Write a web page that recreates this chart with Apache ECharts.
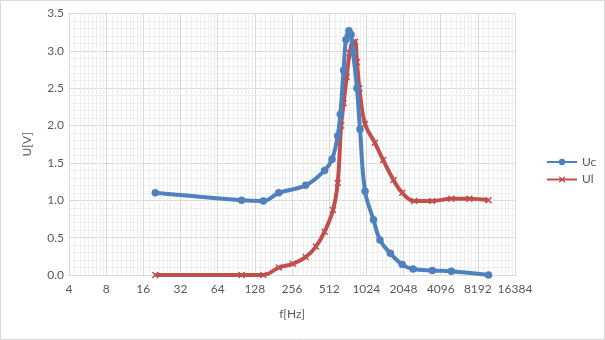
<!DOCTYPE html>
<html>
<head>
<meta charset="utf-8">
<script src="https://cdn.jsdelivr.net/npm/echarts@6/dist/echarts.min.js"></script>
<style>
html,body{margin:0;padding:0;background:#fff;}
#chart{width:605px;height:340px;}
</style>
</head>
<body>
<div id="chart"></div>
<script>
// ---- data ----
var xTicks = [4, 8, 16, 32, 64, 128, 256, 512, 1024, 2048, 4096, 8192, 16384];
var yTicks = [0.0, 0.5, 1.0, 1.5, 2.0, 2.5, 3.0, 3.5];

var ucFreq = [20, 100, 150, 200, 330, 470, 540, 600, 630, 670, 700, 740, 770, 800, 860, 910, 1000, 1170, 1320, 1600, 2000, 2450, 3500, 5000, 10000];
var ucVals = [1.10, 1.00, 0.99, 1.10, 1.20, 1.40, 1.55, 1.86, 2.15, 2.74, 3.15, 3.27, 3.22, 2.97, 2.50, 1.95, 1.12, 0.74, 0.47, 0.29, 0.14, 0.08, 0.06, 0.05, 0.00];

var ulFreq = [20, 100, 150, 200, 260, 330, 400, 470, 550, 600, 640, 670, 710, 750, 800, 830, 860, 900, 1000, 1200, 1400, 1700, 2000, 2500, 3500, 5000, 7000, 10000];
var ulVals = [0.00, 0.00, 0.00, 0.10, 0.15, 0.24, 0.38, 0.58, 0.87, 1.23, 2.00, 2.30, 2.65, 2.97, 3.12, 3.12, 2.85, 2.50, 2.02, 1.77, 1.54, 1.27, 1.10, 0.99, 0.99, 1.02, 1.02, 1.00];

var seriesNames = ['Uc', 'Ul'];
var xTitle = 'f[Hz]';
var yTitle = 'U[V]';

function pairs(xs, ys) { return xs.map(function (x, i) { return [x, ys[i]]; }); }

var FONT = 'Lato';
var TXT = '#595959';
var X_MARK = 'path://M0,1.5L1.5,0L5,3.5L8.5,0L10,1.5L6.5,5L10,8.5L8.5,10L5,6.5L1.5,10L0,8.5L3.5,5Z';

var chart = echarts.init(document.getElementById('chart'), null, {renderer: 'canvas'});
chart.setOption({
  animation: false,
  backgroundColor: '#ffffff',
  graphic: [{
    type: 'rect', shape: {x: 0.5, y: 0.5, width: 604, height: 339},
    style: {fill: 'none', stroke: '#d9d9d9', lineWidth: 1}, z: -10
  }],
  grid: {left: 69, right: 90, top: 13.5, bottom: 65, containLabel: false},
  legend: {
    orient: 'vertical', left: 541, top: 151,
    itemWidth: 30, itemHeight: 8, itemGap: 5.5,
    textStyle: {fontFamily: FONT, fontSize: 12, color: TXT},
    data: seriesNames
  },
  xAxis: {
    type: 'log', logBase: 2, min: xTicks[0], max: xTicks[xTicks.length - 1], interval: 1,
    name: xTitle, nameLocation: 'middle', nameGap: 33,
    nameTextStyle: {fontFamily: FONT, fontSize: 12, color: TXT},
    axisLine: {show: true, lineStyle: {color: '#d9d9d9', width: 1}},
    axisTick: {show: false},
    axisLabel: {fontFamily: FONT, fontSize: 12, color: TXT, margin: 8,
      formatter: function (v) { return String(Math.round(v)); }},
    splitLine: {show: true, lineStyle: {color: '#d9d9d9', width: 1}},
    minorTick: {show: false, splitNumber: 9},
    minorSplitLine: {show: true, lineStyle: {color: '#eeeeee', width: 1}}
  },
  yAxis: {
    type: 'value', min: yTicks[0], max: yTicks[yTicks.length - 1], interval: 0.5,
    name: yTitle, nameLocation: 'middle', nameGap: 36, nameRotate: 90,
    nameTextStyle: {fontFamily: FONT, fontSize: 12, color: TXT},
    axisLine: {show: false},
    axisTick: {show: false},
    axisLabel: {fontFamily: FONT, fontSize: 12, color: TXT, margin: 5,
      formatter: function (v) { return v.toFixed(1); }},
    splitLine: {show: true, lineStyle: {color: '#d9d9d9', width: 1}},
    minorTick: {show: false, splitNumber: 5},
    minorSplitLine: {show: true, lineStyle: {color: '#eeeeee', width: 1}}
  },
  series: [{
    name: seriesNames[0], type: 'line', smooth: 0.4,
    data: pairs(ucFreq, ucVals),
    symbol: 'circle', symbolSize: 7.5,
    lineStyle: {color: '#4f81bd', width: 4},
    itemStyle: {color: '#4f81bd'},
    z: 3
  }, {
    name: seriesNames[1], type: 'line', smooth: 0.4,
    data: pairs(ulFreq, ulVals),
    symbol: X_MARK, symbolSize: 7,
    lineStyle: {color: '#c0504d', width: 4},
    itemStyle: {color: '#c0504d'},
    z: 2
  }]
});
</script>
</body>
</html>
